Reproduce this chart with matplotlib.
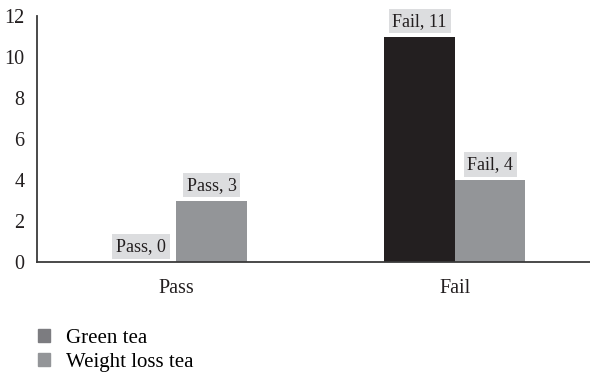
import numpy as np
import matplotlib.pyplot as plt
from matplotlib.patches import Patch

categories = ['Pass', 'Fail']
green_tea = [0, 11]
weight_loss_tea = [3, 4]
series_names = ['Green tea', 'Weight loss tea']

plt.rcParams['font.family'] = ['Liberation Serif', 'DejaVu Serif']

fig = plt.figure(figsize=(5.9, 3.75), dpi=100)
ax = fig.add_axes([0.0627, 0.3013, 0.9373, 0.6557])

x = np.arange(len(categories))
w = 0.253
b1 = ax.bar(x - w / 2, green_tea, w, color='#231f20')
b2 = ax.bar(x + w / 2, weight_loss_tea, w, color='#939598')

box = dict(boxstyle='square,pad=0.2', facecolor='#dcdddf', edgecolor='none')
for bars, vals in ((b1, green_tea), (b2, weight_loss_tea)):
    for rect, cat, v in zip(bars, categories, vals):
        ax.annotate(f'{cat}, {v}', (rect.get_x() + rect.get_width() / 2, v),
                    xytext=(0, 5), textcoords='offset points',
                    ha='center', va='bottom', fontsize=13, color='#231f20', bbox=box)

ax.set_xlim(-0.5, 1.485)
ax.set_ylim(0, 12)
ax.set_yticks(range(0, 13, 2))
ax.set_xticks(x)
ax.set_xticklabels(categories)
ax.tick_params(length=0, labelsize=14.5, colors='#231f20')
ax.tick_params(axis='x', pad=12)
ax.tick_params(axis='y', pad=9)
for s in ('top', 'right'):
    ax.spines[s].set_visible(False)
for s in ('left', 'bottom'):
    ax.spines[s].set_color('#3a3a3a')
    ax.spines[s].set_linewidth(1.3)

handles = [Patch(color='#7c7c80'), Patch(color='#939598')]
fig.legend(handles, series_names, loc='upper left', bbox_to_anchor=(0.05, 0.145),
           frameon=False, fontsize=15, handlelength=0.6, handleheight=0.6,
           handletextpad=0.75, labelspacing=0.25, borderaxespad=0)

fig.savefig('out.png', dpi=100)
